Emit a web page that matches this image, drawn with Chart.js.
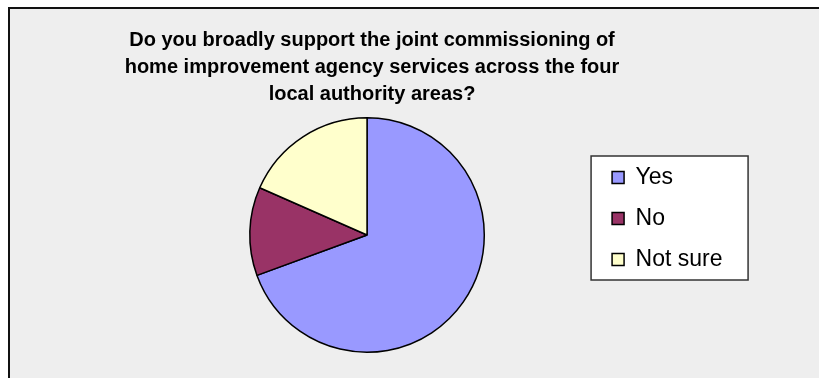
<!DOCTYPE html>
<html>
<head>
<meta charset="utf-8">
<script src="https://cdn.jsdelivr.net/npm/chart.js@4/dist/chart.umd.min.js"></script>
<style>
  html, body { margin: 0; padding: 0; background: #fff; }
  #wrap { width: 819px; height: 378px; }
</style>
</head>
<body>
<div id="wrap"><canvas id="pie" width="819" height="378"></canvas></div>
<script>
// survey question + answers
const titleLines = [
    'Do you broadly support the joint commissioning of',
    'home improvement agency services across the four',
    'local authority areas?'
];
const answers = ['Yes', 'No', 'Not sure'];
const shares = [69.4, 12.2, 18.4]; // percent of responses
const sliceColors = ['#9999ff', '#993366', '#ffffcc'];

// grey panel with dark edge, and white legend box behind the legend items
const framePlugin = {
    id: 'frame',
    beforeDraw(chart) {
        const ctx = chart.ctx;
        ctx.save();
        ctx.fillStyle = '#ffffff';
        ctx.fillRect(0, 0, chart.width, chart.height);
        ctx.fillStyle = '#eeeeee';
        ctx.fillRect(9, 8, chart.width, chart.height);
        ctx.strokeStyle = '#111';
        ctx.lineWidth = 2;
        ctx.beginPath();
        ctx.moveTo(9, chart.height);
        ctx.lineTo(9, 8);
        ctx.lineTo(chart.width, 8);
        ctx.stroke();

        const lg = chart.legend;
        if (lg) {
            ctx.fillStyle = '#ffffff';
            ctx.fillRect(lg.left - 3, lg.top + 39, 157, 124);
            ctx.strokeStyle = '#333';
            ctx.lineWidth = 1.5;
            ctx.strokeRect(lg.left - 3, lg.top + 39, 157, 124);
        }
        ctx.restore();
    }
};

new Chart(document.getElementById('pie'), {
    type: 'pie',
    data: {
        labels: answers,
        datasets: [{
            data: shares,
            backgroundColor: sliceColors,
            borderColor: '#000',
            borderWidth: 1.5
        }]
    },
    options: {
        responsive: false,
        animation: false,
        layout: { padding: { top: 10, left: 11.5, right: 86.5, bottom: 25 } },
        // invisible axis, only used to push the pie to the right of the panel
        scales: {
            y: {
                display: true,
                position: 'left',
                grid: { display: false },
                border: { display: false },
                ticks: { display: false },
                afterFit: s => { s.width = 128.5; }
            }
        },
        plugins: {
            title: {
                display: true,
                text: titleLines,
                color: '#000',
                font: { family: '"Liberation Sans", Arial, sans-serif', size: 20, weight: 'bold', lineHeight: 1.35 },
                padding: { top: 17, bottom: 9 }
            },
            legend: {
                position: 'right',
                align: 'start',
                fullSize: false,
                title: { display: true, text: '', font: { size: 1, lineHeight: 1 }, padding: { top: 30, bottom: 0 } },
                labels: {
                    color: '#000',
                    font: { family: '"Liberation Sans", Arial, sans-serif', size: 23 },
                    boxWidth: 12,
                    boxHeight: 12,
                    padding: 18
                }
            },
            tooltip: { enabled: false }
        }
    },
    plugins: [framePlugin]
});
</script>
</body>
</html>
